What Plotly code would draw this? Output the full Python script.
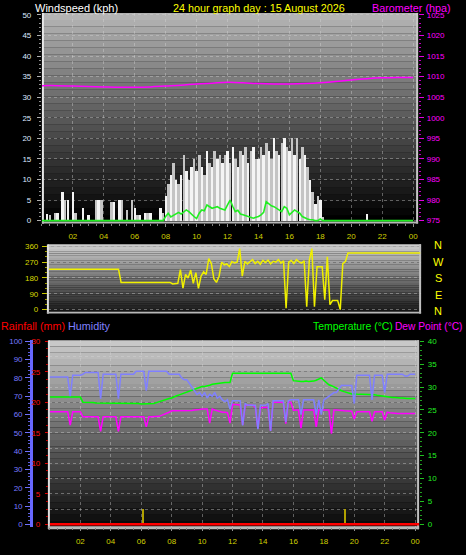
import plotly.graph_objects as go

W, H = 466, 555

# ---------------- data ----------------
tick_hours = [2, 4, 6, 8, 10, 12, 14, 16, 18, 20, 22, 24]
tick_labels = ["02", "04", "06", "08", "10", "12", "14", "16", "18", "20", "22", "00"]

# wind gust (kph), 10-minute samples from 00:00 to 24:00
wind_gust = (
    [0, 0, 1.6, 1.5, 0, 2] + [2, 0, 7, 5, 5, 0] + [7, 2, 0, 0, 3, 0] + [1.5, 0, 0, 5, 5, 5] +
    [0, 0, 0, 4.5, 4.5, 0] + [5, 5, 0, 2.5, 0, 5] + [3, 1.5, 1.5, 0, 2, 2] + [2, 0, 0, 0, 3, 2] +
    [6, 9, 11, 14, 10, 9] + [11, 16, 12, 10, 13, 15] + [12, 16, 13, 11, 17, 14] + [13, 17, 15, 16, 14, 16] +
    [17, 14, 18, 15, 13, 17] + [16, 18, 14, 17, 18, 15] + [15, 18, 16, 19, 17, 15] + [20, 17, 16, 19, 20, 18] +
    [17, 20, 16, 20, 15, 18] + [16, 13, 10, 7, 4, 6] + [5, 1, 0, 0, 0, 0] + [0, 0, 0, 0, 0, 0] +
    [0, 0, 0, 0, 0, 0] + [1.6, 0, 0, 0, 0, 0] + [0, 0, 0, 0, 0, 0] + [0, 0, 0, 0, 0, 0] + [0]
)
# average wind speed (kph)
wind_avg = (
    [0] * 6 + [0] * 6 + [0] * 6 + [0] * 6 + [0] * 6 + [0] * 6 + [0] * 6 + [0] * 6 +
    [1.0, 1.8, 0.9, 1.2, 1.5, 2.0] + [1.6, 2.0, 2.6, 2.2, 1.5, 1.0] + [0.5, 1.8, 2.6, 2.4, 3.8, 3.4] +
    [3.0, 3.2, 3.4, 3.0, 2.8, 2.6] + [3.8, 5.0, 3.5, 2.2, 2.5, 1.6] + [1.4, 1.2, 1.0, 0.8, 0.6, 0.8] +
    [1.0, 1.4, 2.0, 4.6, 4.0, 3.6] + [3.4, 3.0, 2.6, 2.2, 3.4, 3.0] + [1.4, 2.0, 2.6, 2.2, 1.8, 1.0] +
    [0.6, 0.4, 0.2, 0.2, 0.0, 0.0] + [0.4, 0, 0, 0, 0, 0] + [0] * 6 + [0] * 6 + [0] * 6 + [0] * 6 + [0] * 6 + [0]
)
# barometer (hPa), hourly
baro_hourly = [1007.8, 1007.8, 1007.7, 1007.6, 1007.5, 1007.4, 1007.4, 1007.5, 1007.7, 1007.9,
               1008.2, 1008.4, 1008.6, 1008.5, 1008.3, 1008.2, 1008.2, 1008.3, 1008.5, 1008.8,
               1009.2, 1009.5, 1009.7, 1009.8, 1009.8]
# wind direction (degrees), 10-minute samples
wind_dir = (
    [230] * 6 + [230] * 6 + [230] * 6 + [230] * 6 + [230, 230, 230, 230, 155, 155] +
    [155] * 6 + [155] * 6 + [155] * 6 +
    [146, 146, 150, 228, 122, 200] + [180, 225, 150, 210, 121, 190] + [215, 200, 290, 262, 175, 155] +
    [190, 270, 255, 260, 245, 273] + [265, 270, 347, 191, 275, 260] + [270, 285, 262, 275, 258, 280] +
    [268, 282, 260, 275, 270, 285] + [265, 278, 8, 270, 280, 262] + [285, 272, 265, 278, 17, 281] +
    [347, 17, 244, 244, 244, 56] + [300, 28, 52, 52, 52, 0] + [262, 273, 322, 322, 322, 322] +
    [322] * 6 + [322] * 6 + [322] * 6 + [322] * 6 + [322]
)
# humidity (%), 10-minute samples
humidity = (
    [80.5] * 6 + [80.5, 80.5, 70, 81.5, 81.5, 81.5] + [81.5, 82, 83, 83, 83, 83] + [83, 83, 68.6, 82, 82, 82] +
    [82, 82, 82, 68.6, 82, 82] + [82, 82, 82, 82, 83.6, 83.6] + [83.6, 83.6, 73, 83.6, 83.6, 83.6] +
    [83.6, 83.6, 83.6, 83.6, 83.6, 82] + [82, 82, 82, 82, 80, 79] + [79, 77, 75, 73, 71, 72] +
    [70, 72, 69, 71, 70, 72] + [69, 70, 68, 67, 68, 63] + [67.5, 67.5, 67.5, 67.5, 54, 66] +
    [65, 65, 65, 65, 52, 65] + [65, 65, 66, 51, 67.5, 67.5] + [67.5, 67.5, 67.5, 56, 67.5, 68] +
    [68, 68, 68, 60, 68, 68] + [68, 68, 68, 60, 68, 60] + [68, 69, 70, 71, 72, 72] +
    [74, 76, 75.8, 75.8, 75.8, 75.8] + [66, 81.5, 81.5, 81.5, 81.5, 81.5] + [81.5, 68, 81.5, 81.5, 81.5, 81.5] +
    [72, 82, 82, 82, 82, 82] + [82, 82, 81, 81, 82, 82] + [82]
)
# temperature (°C), 10-minute samples
temperature = (
    [27.8] * 6 + [27.8] * 6 + [27.8, 26.7, 26.7, 26.7, 26.6, 26.6] + [26.5] * 6 + [26.5] * 6 +
    [26.5, 26.5, 26.4, 26.4, 26.4, 26.4] + [26.3, 26.3, 26.3, 26.3, 26.3, 26.4] +
    [26.6, 26.8, 27.0, 27.2, 27.4, 27.5] + [27.6, 27.9, 28.1, 28.3, 28.5, 28.7] +
    [29.0, 29.2, 29.3, 29.5, 29.7, 29.9] + [30.1, 30.1, 30.2, 30.4, 30.6, 30.7] +
    [30.8, 30.9, 30.9, 31.0, 31.0, 31.0] + [33.0] * 6 + [33.0] * 6 + [33.0] * 6 + [33.0] * 6 +
    [31.4, 31.3, 31.2, 31.2, 31.2, 31.3] + [31.2, 31.2, 31.3, 31.5, 31.8, 32.0] +
    [31.5, 30.9, 30.5, 30.3, 30.0, 29.8] + [29.5, 29.2, 29.0, 28.8, 28.6, 28.5] +
    [28.5, 28.4, 28.4, 28.4, 28.4, 28.4] + [28.4, 28.3, 28.3, 28.2, 28.1, 28.0] +
    [27.9, 27.8, 27.8, 27.7, 27.7, 27.6] + [27.6, 27.6, 27.5, 27.5, 27.5, 27.5] + [27.5]
)
# dew point (°C), 10-minute samples
dewpoint = (
    [24.6] * 6 + [24.6, 24.6, 21.7, 24.6, 24.6, 24.6] + [24.6, 23.5, 23.5, 23.5, 23.5, 23.5] +
    [23.5, 23.5, 20.3, 23.5, 23.5, 23.5] + [23.5, 23.5, 23.5, 20.3, 23.5, 23.5] + [23.5] * 6 +
    [23.5, 23.5, 21.3, 23.5, 23.5, 23.5] + [23.5, 23.6, 23.8, 24.0, 24.2, 24.5] + [24.8] * 6 +
    [24.8, 24.8, 24.9, 25.0, 25.0, 25.1] + [25.2, 25.2, 25.2, 22.1, 25.2, 25.0] +
    [24.8, 24.6, 24.5, 24.5, 24.4, 22.1] + [26.2, 26.2, 26.2, 26.1, 21.7, 26.0] +
    [26.0, 26.0, 26.0, 25.6, 20.9, 25.5] + [25.5, 25.5, 25.6, 20.4, 26.7, 26.7] +
    [26.7, 26.7, 26.7, 22.0, 26.7, 26.7] + [24.9, 25.0, 25.0, 21.0, 25.0, 25.0] +
    [25.0, 25.0, 25.0, 21.3, 25.0, 25.0] + [25.0, 25.0, 25.0, 19.8, 25.0, 25.0] +
    [25.0, 24.9, 24.8, 24.8, 24.7, 24.7] + [23.0, 24.6, 24.6, 24.6, 24.6, 24.6] +
    [24.6, 22.5, 24.6, 24.6, 24.6, 24.6] + [22.8, 24.5, 24.4, 24.3, 24.3, 24.2] + [24.2] * 6 + [24.2]
)
rain_hours = [0, 6, 12, 18, 24.3]
rainfall = [0, 0, 0, 0, 0]
rain_event_hours = [6.1, 19.42]
rain_event_values = [2.4, 2.4]

t10 = [i / 6 for i in range(len(wind_gust))]
hours = list(range(len(baro_hourly)))

FONT = "Liberation Sans"


def fx(px):
    return px / W


def fy(py):
    return 1 - py / H


fig = go.Figure()

# ---------- panel 1: wind + barometer ----------
bar_colors = ["#f4f4f4" if i % 2 == 0 else "#c4c4c4" for i in range(len(wind_gust))]
fig.add_trace(go.Bar(x=t10, y=wind_gust, xaxis="x", yaxis="y", width=0.16,
                     marker=dict(color=bar_colors, line=dict(width=0)),
                     name="Gust", showlegend=False))
fig.add_trace(go.Scatter(x=t10, y=wind_avg, xaxis="x", yaxis="y", mode="lines",
                         line=dict(color="#22ee22", width=1.6), name="Wind", showlegend=False))
fig.add_trace(go.Scatter(x=hours, y=baro_hourly, xaxis="x", yaxis="y2", mode="lines",
                         line=dict(color="#ff00ff", width=1.5, shape="spline"), name="Baro",
                         showlegend=False))

# ---------- panel 2: wind direction ----------
fig.add_trace(go.Scatter(x=t10, y=wind_dir, xaxis="x2", yaxis="y3", mode="lines",
                         line=dict(color="#f0f000", width=1.5), name="Dir", showlegend=False))

# ---------- panel 3: temp/hum/dew/rain ----------
fig.add_trace(go.Scatter(x=t10, y=humidity, xaxis="x3", yaxis="y5", mode="lines",
                         line=dict(color="#8080ff", width=1.5), name="Hum", showlegend=False))
fig.add_trace(go.Scatter(x=t10, y=temperature, xaxis="x3", yaxis="y4", mode="lines",
                         line=dict(color="#00ff00", width=1.5), name="Temp", showlegend=False))
fig.add_trace(go.Scatter(x=t10, y=dewpoint, xaxis="x3", yaxis="y4", mode="lines",
                         line=dict(color="#ff00ff", width=1.5), name="Dew", showlegend=False))
fig.add_trace(go.Bar(x=rain_event_hours, y=rain_event_values, xaxis="x3", yaxis="y6", width=0.1,
                     marker=dict(color="#b0a000", line=dict(width=0)), showlegend=False))
fig.add_trace(go.Scatter(x=rain_hours, y=rainfall, xaxis="x3", yaxis="y6", mode="lines",
                         line=dict(color="#ff0000", width=2.5), name="Rain", showlegend=False))

# ---------- background gradients ----------
shapes = []


def gradient(x0, x1, y0, y1, ctop, cbot, n=30):
    for i in range(n):
        f = i / (n - 1)
        c = int(round(ctop + (cbot - ctop) * f))
        ya = y0 + (y1 - y0) * i / n
        yb = y0 + (y1 - y0) * (i + 1) / n
        shapes.append(dict(type="rect", xref="paper", yref="paper", x0=fx(x0), x1=fx(x1),
                           y0=fy(yb), y1=fy(ya), fillcolor=f"rgb({c},{c},{c})",
                           line=dict(width=0), layer="below"))


gradient(43, 419, 10, 222, 180, 0)
gradient(48, 422, 244, 313, 205, 25)
gradient(49, 420, 341, 530, 200, 10)
# bevel edges
for (x0, x1, y0, y1, col) in [
    (42, 44, 10, 223, "#e8e8e8"), (417, 419, 10, 223, "#c8c8c8"), (42, 419, 221, 223, "#b8b8b8"),
    (47, 49, 244, 314, "#e0e0e0"), (420, 422, 244, 314, "#c0c0c0"), (47, 422, 312, 314, "#b8b8b8"),
    (48, 50, 341, 532, "#e0e0e0"), (418, 420, 341, 532, "#c0c0c0"), (48, 420, 529, 532, "#b8b8b8"),
]:
    shapes.append(dict(type="rect", xref="paper", yref="paper", x0=fx(x0), x1=fx(x1),
                       y0=fy(y1), y1=fy(y0), fillcolor=col, line=dict(width=0), layer="below"))

grid = "rgba(215,215,215,0.4)"
tickfont_x = dict(family=FONT, size=8, color="#d0d000")

layout = dict(
    width=W, height=H, margin=dict(l=0, r=0, t=0, b=0),
    paper_bgcolor="black", plot_bgcolor="rgba(0,0,0,0)",
    showlegend=False, bargap=0, barmode="overlay",
    shapes=shapes,
    font=dict(family=FONT, size=8),
    xaxis=dict(domain=[fx(42), fx(419)], anchor="y", range=[0, 24.32],
               tickvals=tick_hours, ticktext=tick_labels, tickfont=tickfont_x,
               ticks="outside", ticklen=3, tickcolor="#909090", ticklabelstandoff=3,
               minor=dict(dtick=0.5, ticks="outside", ticklen=2, tickcolor="#808080"),
               showgrid=True, gridcolor=grid, griddash="dot", zeroline=False, showline=False),
    yaxis=dict(domain=[fy(222), fy(10)], anchor="x", range=[-0.48, 50.48], dtick=5,
               tickfont=dict(family=FONT, size=8, color="#dde8ff"), ticks="outside", ticklen=4,
               tickcolor="#b0b0b0", ticklabelstandoff=4,
               minor=dict(dtick=1, ticks="outside", ticklen=2, tickcolor="#909090"),
               showgrid=True, gridcolor=grid, griddash="dot", zeroline=False, showline=False),
    yaxis2=dict(overlaying="y", anchor="x", side="right", range=[974.52, 1025.48], dtick=5,
                tickfont=dict(family=FONT, size=8, color="#ff00ff"), ticks="outside", ticklen=5,
                tickcolor="#e000e0", ticklabelstandoff=1,
                minor=dict(dtick=1, ticks="outside", ticklen=2, tickcolor="#c000c0"),
                showgrid=False, zeroline=False, showline=False),
    xaxis2=dict(domain=[fx(48), fx(422)], anchor="y3", range=[-0.065, 24.06],
                showticklabels=False, ticks="", showgrid=False, zeroline=False, showline=False),
    yaxis3=dict(domain=[fy(313), fy(244)], anchor="x2", range=[-16.9, 371.25],
                tickvals=[0, 90, 180, 270, 360],
                tickfont=dict(family=FONT, size=8, color="#d8d800"), ticks="outside", ticklen=5,
                tickcolor="#c8c800", ticklabelstandoff=2,
                minor=dict(dtick=30, ticks="outside", ticklen=2, tickcolor="#a0a000"),
                showgrid=True, gridcolor=grid, griddash="dot", zeroline=False, showline=False),
    xaxis3=dict(domain=[fx(49), fx(420)], anchor="y4", range=[-0.066, 24.26],
                tickvals=tick_hours, ticktext=tick_labels, tickfont=tickfont_x,
                ticks="outside", ticklen=3, tickcolor="#909090", ticklabelstandoff=3,
                minor=dict(dtick=0.5, ticks="outside", ticklen=2, tickcolor="#808080"),
                showgrid=True, gridcolor=grid, griddash="dot", zeroline=False, showline=False),
    yaxis4=dict(domain=[fy(530), fy(341)], anchor="x3", side="right", range=[-0.649, 40.216],
                dtick=5, tickfont=dict(family=FONT, size=8, color="#22ee22"), ticks="outside",
                ticklen=4, tickcolor="#20c020", ticklabelstandoff=2,
                minor=dict(dtick=1, ticks="outside", ticklen=2, tickcolor="#20a020"),
                showgrid=False, zeroline=False, showline=False),
    yaxis5=dict(overlaying="y4", anchor="free", position=fx(31), side="left",
                range=[-1.62, 100.54], dtick=10,
                tickfont=dict(family=FONT, size=8, color="#7878ff"), ticks="outside", ticklen=5,
                tickcolor="#7070ff", ticklabelstandoff=1,
                minor=dict(dtick=2, ticks="outside", ticklen=2, tickcolor="#6060e0"),
                showline=True, linecolor="#6868ff", linewidth=2.5,
                showgrid=False, zeroline=False),
    yaxis6=dict(overlaying="y4", anchor="x3", side="left", range=[-0.486, 30.16], dtick=5,
                tickfont=dict(family=FONT, size=8, color="#ff1010"), ticks="outside", ticklen=3,
                tickcolor="#e00000", ticklabelstandoff=3,
                minor=dict(dtick=1.25, ticks="outside", ticklen=2, tickcolor="#c00000"),
                showgrid=False, zeroline=False, showline=False),
    yaxis7=dict(overlaying="y4", anchor="x3", side="left", range=[-0.486, 30.16],
                tickvals=[2.5 * k for k in range(13)], showticklabels=False, ticks="",
                showgrid=True, gridcolor=grid, griddash="dot", zeroline=False, showline=False),
)
fig.update_layout(**layout)

# invisible trace so the grid-only axis renders
fig.add_trace(go.Scatter(x=[0], y=[0], xaxis="x3", yaxis="y7", mode="markers",
                         marker=dict(opacity=0), showlegend=False, hoverinfo="skip"))

ann = []


def text(s, px, py, color, size=11, anchor="left"):
    ann.append(dict(text=s, x=fx(px), y=fy(py), xref="paper", yref="paper", showarrow=False,
                    xanchor=anchor, yanchor="middle", font=dict(family=FONT, size=size, color=color)))


text("Windspeed (kph)", 33, 5, "#ffffff")
text("24 hour graph day : 15 August 2026", 171, 5, "#ffff00", size=10.8)
text("Barometer (hpa)", 371, 5, "#ff00ff", size=10.8)
text("Rainfall (mm)", -1, 327, "#ff0000", size=10.8)
text("Humidity", 66, 327, "#8080ff", size=10.8)
text("Temperature (°C)", 312, 327, "#00ff00", size=10.4)
text("Dew Point (°C)", 394, 327, "#ff00ff", size=10.2)
for letter, py in zip(["N", "W", "S", "E", "N"], [245, 262, 278, 295, 311]):
    text(letter, 439, py, "#ffff00", size=11, anchor="center")

fig.update_layout(annotations=ann)
fig.write_html("out.html", config={"displayModeBar": False},
               post_script="document.body.style.margin='0';document.body.style.background='black';")
